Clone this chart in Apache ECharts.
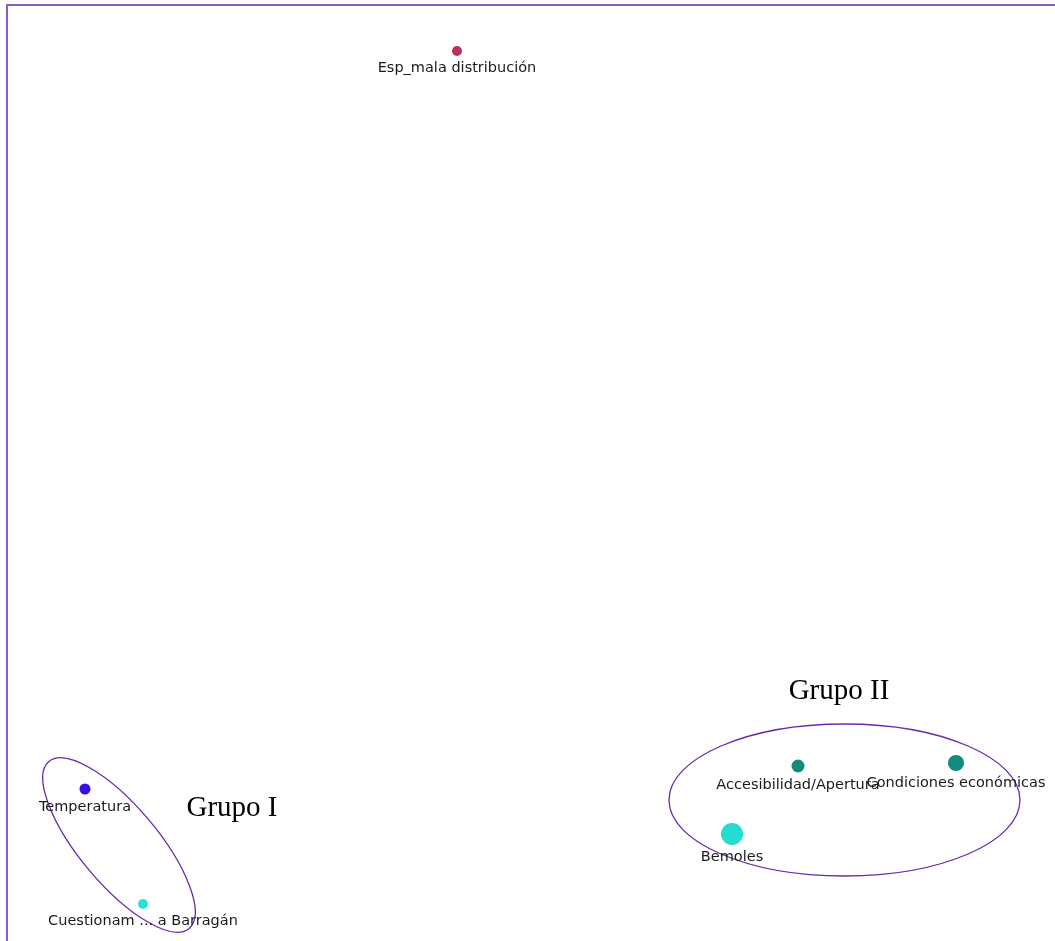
<!DOCTYPE html>
<html>
<head>
<meta charset="utf-8">
<script src="https://cdn.jsdelivr.net/npm/echarts@6/dist/echarts.min.js"></script>
<style>
html,body{margin:0;padding:0;background:#fff;}
#chart{width:1055px;height:941px;}
</style>
</head>
<body>
<div id="chart"></div>
<script>
// Node layout (layout units)
const nodeNames = ['Esp_mala distribución', 'Temperatura', 'Cuestionam ... a Barragán', 'Accesibilidad/Apertura', 'Condiciones económicas', 'Bemoles'];
const nodeX = [457, 85, 143, 798, 956, 732];
const nodeY = [51, 789, 904, 766, 763, 834];
const nodeSize = [10, 11, 10, 13, 16, 22];
const nodeColors = ['#b8325a', '#3a10e0', '#2fe0d0', '#138a7e', '#138a7e', '#25dccf'];

// Group ellipses
const groupNames = ['Grupo I', 'Grupo II'];
const groupLabelX = [232, 839];
const groupLabelY = [808, 691];
const ellipseCx = [119, 844.5];
const ellipseCy = [845, 800];
const ellipseRx = [109, 175.5];
const ellipseRy = [39, 76];
const ellipseAngle = [-50, 0];

const chart = echarts.init(document.getElementById('chart'));

const nodeData = nodeNames.map((n, i) => ({
  name: n,
  value: [nodeX[i], nodeY[i]],
  symbolSize: nodeSize[i],
  itemStyle: { color: nodeColors[i], opacity: 1 }
}));

const groupLabelData = groupNames.map((n, i) => ({ name: n, value: [groupLabelX[i], groupLabelY[i]] }));
const ellipseData = groupNames.map((n, i) => [ellipseCx[i], ellipseCy[i], ellipseRx[i], ellipseRy[i], ellipseAngle[i]]);

chart.setOption({
  animation: false,
  backgroundColor: '#ffffff',
  grid: { left: 7, top: 5, right: 0, bottom: 0 },
  xAxis: {
    type: 'value', min: 7, max: 1055, position: 'top',
    axisLine: { show: true, lineStyle: { color: '#8a5cc4', width: 2 } },
    axisTick: { show: false }, axisLabel: { show: false }, splitLine: { show: false }
  },
  yAxis: {
    type: 'value', min: 5, max: 941, inverse: true,
    axisLine: { show: true, lineStyle: { color: '#8a5cc4', width: 2 } },
    axisTick: { show: false }, axisLabel: { show: false }, splitLine: { show: false }
  },
  series: [
    {
      type: 'custom',
      data: ellipseData,
      renderItem: function (params, api) {
        const c = api.coord([api.value(0), api.value(1)]);
        const s = api.size([api.value(2), api.value(3)]);
        return {
          type: 'ellipse',
          x: c[0], y: c[1],
          rotation: api.value(4) * Math.PI / 180,
          shape: { cx: 0, cy: 0, rx: s[0], ry: s[1] },
          style: { fill: 'none', stroke: '#6a2aa8', lineWidth: 1.3 }
        };
      },
      silent: true,
      z: 1
    },
    {
      type: 'scatter',
      data: nodeData,
      z: 3,
      itemStyle: { opacity: 1 },
      label: {
        show: true,
        position: 'bottom',
        distance: 5,
        formatter: '{b}',
        color: '#1a1a1a',
        fontFamily: 'DejaVu Sans',
        fontSize: 14.5
      }
    },
    {
      type: 'scatter',
      data: groupLabelData,
      symbolSize: 0,
      z: 4,
      itemStyle: { opacity: 1 },
      label: {
        show: true,
        position: 'inside',
        formatter: '{b}',
        color: '#000',
        fontFamily: 'Liberation Serif',
        fontSize: 29
      }
    }
  ]
});
</script>
</body>
</html>
